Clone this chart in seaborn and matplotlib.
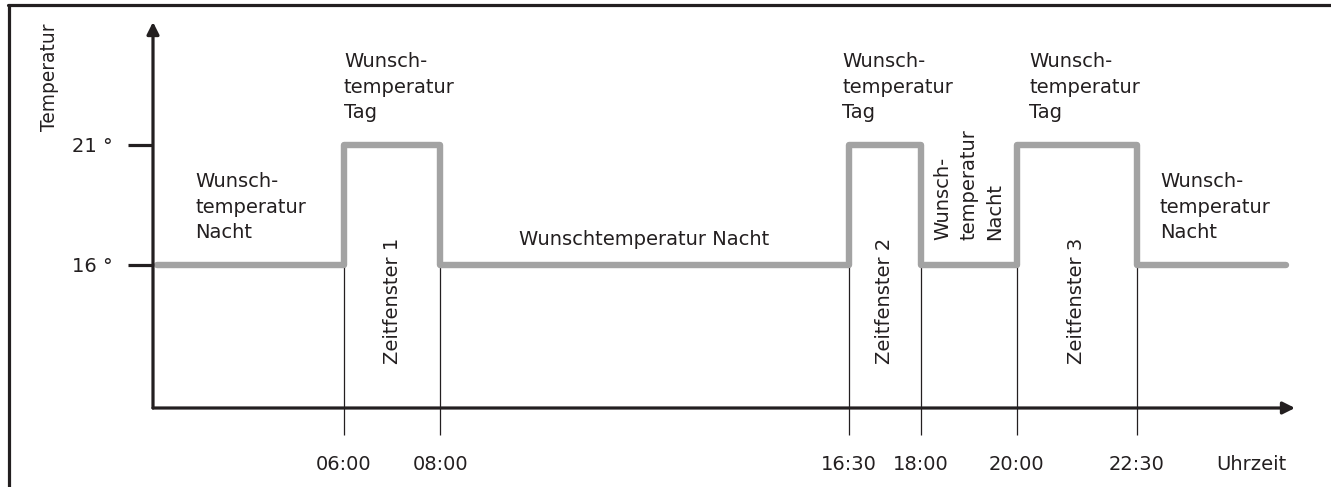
import matplotlib

matplotlib.use("Agg")
import matplotlib.pyplot as plt
import seaborn as sns
from matplotlib.lines import Line2D

# schedule: switch times (h) and set temperature (degC), steps-post
schedule_hours = [2.1, 6.0, 8.0, 16.5, 18.0, 20.0, 22.5, 25.6]
schedule_temps = [16, 21, 16, 21, 16, 21, 16, 16]
switch_hours = [6.0, 8.0, 16.5, 18.0, 20.0, 22.5]
switch_labels = ["06:00", "08:00", "16:30", "18:00", "20:00", "22:30"]
temp_ticks = [16, 21]
temp_labels = ["16 °", "21 °"]
window_names = ["Zeitfenster 1", "Zeitfenster 2", "Zeitfenster 3"]
day_label = "Wunsch-\ntemperatur\nTag"
night_label = "Wunsch-\ntemperatur\nNacht"
night_label_long = "Wunschtemperatur Nacht"

W, H = 1331, 487
INK = "#231f20"
GREY = "#a3a3a3"
FS = 14

sns.set_theme(style="white")
plt.rcParams["font.family"] = ["DejaVu Sans"]
plt.rcParams["text.color"] = INK

fig = plt.figure(figsize=(W / 100, H / 100), dpi=100)
fig.patch.set_facecolor("white")

# axes box in pixels: origin (153, 408), arrow tips at x=1295 / y=22
ax = fig.add_axes([153 / W, 1 - 408 / H, (1295 - 153) / W, (408 - 22) / H])
ax.set_facecolor("white")
px_per_h, px_per_deg = 48.06, 24.0
ax.set_xlim(6 - (344 - 153) / px_per_h, 6 + (1295 - 344) / px_per_h)
ax.set_ylim(16 - (408 - 265) / px_per_deg, 21 + (145 - 22) / px_per_deg)
y0 = ax.get_ylim()[0]

# thin guide lines from switch points down through the time axis
ax.vlines(switch_hours, y0, 16, color=INK, lw=0.9, zorder=1)

sns.lineplot(x=schedule_hours, y=schedule_temps, drawstyle="steps-post", color=GREY,
             linewidth=4.6, solid_joinstyle="round", solid_capstyle="round",
             sort=False, estimator=None, ax=ax, zorder=2)

for s in ax.spines.values():
    s.set_visible(False)
for xy in [(1, 0), (0, 1)]:
    ax.annotate("", xy=xy, xytext=(0, 0), xycoords="axes fraction",
                arrowprops=dict(arrowstyle="-|>", lw=2.3, color=INK, shrinkA=0, shrinkB=0,
                                mutation_scale=18), annotation_clip=False)

ax.set_xticks(switch_hours, labels=switch_labels)
ax.set_yticks(temp_ticks, labels=temp_labels)
ax.tick_params(axis="x", length=19.5, width=0.9, color=INK, direction="out", pad=14,
               labelsize=FS, labelcolor=INK, bottom=True)
ax.tick_params(axis="y", length=18, width=2.3, color=INK, direction="out", pad=11,
               labelsize=FS, labelcolor=INK, left=True)
ax.grid(False)


def hx(p):
    return 6 + (p - 344) / px_per_h


def ty(p):
    return 21 + (145 - p) / px_per_deg


txt = dict(fontsize=FS, color=INK, linespacing=1.45, clip_on=False)
ax.text(hx(195), ty(172), night_label, ha="left", va="top", **txt)
for left in [344, 842, 1029]:
    ax.text(hx(left), ty(52), day_label, ha="left", va="top", **txt)
ax.text(hx(1160), ty(172), night_label, ha="left", va="top", **txt)
ax.text(hx(644), ty(240), night_label_long, ha="center", va="center", **txt)
ax.text((switch_hours[3] + switch_hours[4]) / 2, ty(240), night_label, rotation=90,
        ha="center", va="bottom", multialignment="left", **txt)
for name, a, b in zip(window_names, switch_hours[0::2], switch_hours[1::2]):
    ax.text((a + b) / 2, ty(301), name, rotation=90, ha="center", va="center", **txt)

fig.text(50 / W, 1 - 77 / H, "Temperatur", rotation=90, ha="center", va="center", fontsize=FS - 0.6)
fig.text(1251 / W, 1 - 465 / H, "Uhrzeit", ha="center", va="center", fontsize=FS)

# frame: top and left edge only
fig.add_artist(Line2D([8 / W, 1], [1 - 5 / H, 1 - 5 / H], transform=fig.transFigure, lw=2.3, color=INK))
fig.add_artist(Line2D([9 / W, 9 / W], [0, 1 - 5 / H], transform=fig.transFigure, lw=2.3, color=INK))

fig.savefig("out.png", dpi=100)
